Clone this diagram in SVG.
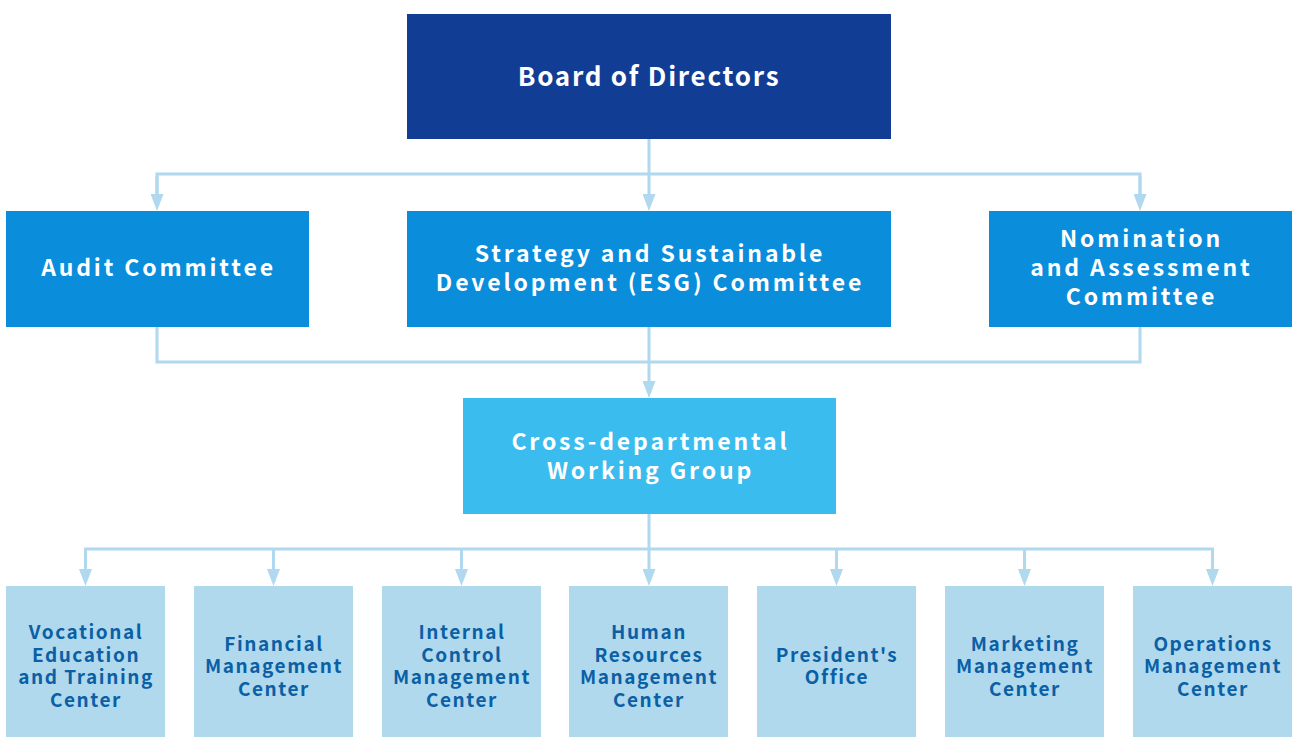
<svg xmlns="http://www.w3.org/2000/svg" width="1292" height="737" viewBox="0 0 1292 737">
  <style>
    .board { fill: #123d95; }
    .comm { fill: #0a8ddb; }
    .cross { fill: #3bbcee; }
    .dept { fill: #b0d9ee; }
    text { font-family: "Noto Sans CJK SC", "Noto Sans", sans-serif; font-weight: 700; text-anchor: middle; }
    .t1 { font-size: 26px; fill: #ffffff; letter-spacing: 1.75px; }
    .t2 { font-size: 23px; fill: #ffffff; letter-spacing: 2.85px; }
    .t3 { font-size: 19px; fill: #0b5fa5; letter-spacing: 1.55px; }
    .conn { fill: none; stroke: #b0d8ee; stroke-width: 3; }
  </style>
  <defs>
    <marker id="arrow" viewBox="0 0 17 13" refX="0" refY="6.5" markerWidth="17" markerHeight="13" markerUnits="userSpaceOnUse" orient="auto">
      <path d="M0,0 L17,6.5 L0,13 Z" fill="#b0d8ee"/>
    </marker>
  </defs>

  <g id="connectors">
    <path class="conn" d="M649,139 V194" marker-end="url(#arrow)"/>
    <path class="conn" d="M157,194 V174 H1140 V194"/>
    <path class="conn" d="M157,176 V194" marker-end="url(#arrow)"/>
    <path class="conn" d="M1140,176 V194" marker-end="url(#arrow)"/>
    <path class="conn" d="M157,327 V362 H1140 V327"/>
    <path class="conn" d="M649,327 V381" marker-end="url(#arrow)"/>
    <path class="conn" d="M649,514 V569" marker-end="url(#arrow)"/>
    <path class="conn" d="M85.5,569 V549 H1212.5 V569"/>
    <path class="conn" d="M85.5,551 V569" marker-end="url(#arrow)"/>
    <path class="conn" d="M273.5,549 V569" marker-end="url(#arrow)"/>
    <path class="conn" d="M461.5,549 V569" marker-end="url(#arrow)"/>
    <path class="conn" d="M836.5,549 V569" marker-end="url(#arrow)"/>
    <path class="conn" d="M1024.5,549 V569" marker-end="url(#arrow)"/>
    <path class="conn" d="M1212.5,551 V569" marker-end="url(#arrow)"/>
  </g>

  <g id="board">
    <rect class="board" x="407" y="14" width="484" height="125"/>
    <text class="t1" x="649" y="86">Board of Directors</text>
  </g>

  <g id="audit">
    <rect class="comm" x="6" y="211" width="303" height="116"/>
    <text class="t2" x="158.5" y="276">Audit Committee</text>
  </g>

  <g id="strategy">
    <rect class="comm" x="407" y="211" width="484" height="116"/>
    <text class="t2" x="650" y="261.5">Strategy and Sustainable</text>
    <text class="t2" x="650" y="290.5">Development (ESG) Committee</text>
  </g>

  <g id="nomination">
    <rect class="comm" x="989" y="211" width="303" height="116"/>
    <text class="t2" x="1141.5" y="247">Nomination</text>
    <text class="t2" x="1141.5" y="276">and Assessment</text>
    <text class="t2" x="1141.5" y="305">Committee</text>
  </g>

  <g id="cross">
    <rect class="cross" x="463" y="398" width="373" height="116"/>
    <text class="t2" x="650.5" y="449.5">Cross-departmental</text>
    <text class="t2" x="650.5" y="478.5">Working Group</text>
  </g>

  <g id="vocational">
    <rect class="dept" x="6" y="586" width="159" height="151"/>
    <text class="t3" x="86" y="639">Vocational</text>
    <text class="t3" x="86" y="661.5">Education</text>
    <text class="t3" x="86" y="684">and Training</text>
    <text class="t3" x="86" y="706.5">Center</text>
  </g>

  <g id="financial">
    <rect class="dept" x="194" y="586" width="159" height="151"/>
    <text class="t3" x="274" y="650.5">Financial</text>
    <text class="t3" x="274" y="673">Management</text>
    <text class="t3" x="274" y="695.5">Center</text>
  </g>

  <g id="internal">
    <rect class="dept" x="382" y="586" width="159" height="151"/>
    <text class="t3" x="462" y="639">Internal</text>
    <text class="t3" x="462" y="661.5">Control</text>
    <text class="t3" x="462" y="684">Management</text>
    <text class="t3" x="462" y="706.5">Center</text>
  </g>

  <g id="hr">
    <rect class="dept" x="569" y="586" width="159" height="151"/>
    <text class="t3" x="649" y="639">Human</text>
    <text class="t3" x="649" y="661.5">Resources</text>
    <text class="t3" x="649" y="684">Management</text>
    <text class="t3" x="649" y="706.5">Center</text>
  </g>

  <g id="president">
    <rect class="dept" x="757" y="586" width="159" height="151"/>
    <text class="t3" x="837" y="662">President's</text>
    <text class="t3" x="837" y="684">Office</text>
  </g>

  <g id="marketing">
    <rect class="dept" x="945" y="586" width="159" height="151"/>
    <text class="t3" x="1025" y="650.5">Marketing</text>
    <text class="t3" x="1025" y="673">Management</text>
    <text class="t3" x="1025" y="695.5">Center</text>
  </g>

  <g id="operations">
    <rect class="dept" x="1133" y="586" width="159" height="151"/>
    <text class="t3" x="1213" y="650.5">Operations</text>
    <text class="t3" x="1213" y="673">Management</text>
    <text class="t3" x="1213" y="695.5">Center</text>
  </g>
</svg>
